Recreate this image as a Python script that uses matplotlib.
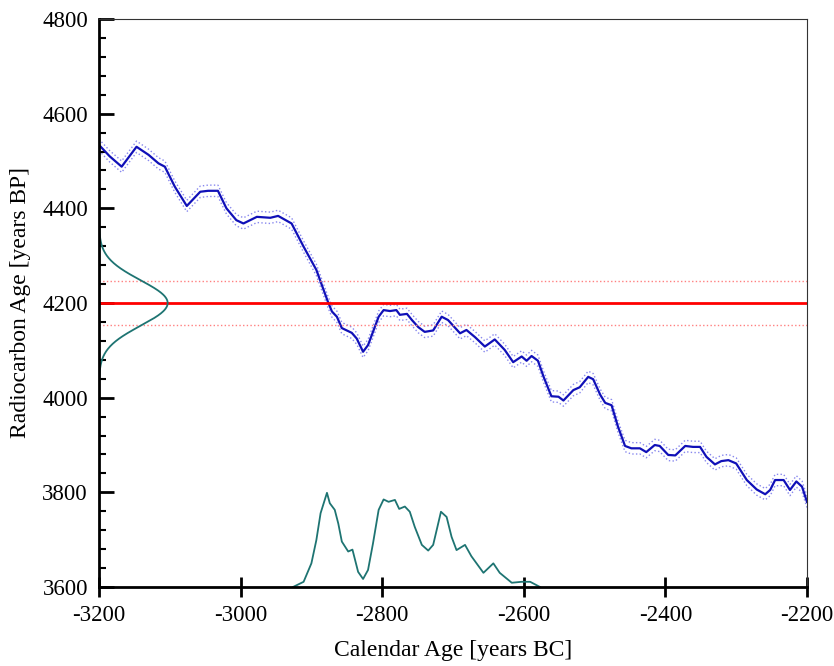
import numpy as np
import matplotlib
matplotlib.use("Agg")
from matplotlib import pyplot as plt
from matplotlib.ticker import MultipleLocator

# calibration curve
cal_x = [-3200, -3185, -3168, -3147, -3130, -3116, -3107, -3093, -3076, -3057, -3046, -3032,
         -3020, -3006, -2996, -2977, -2958, -2947, -2928, -2911, -2893, -2877, -2871,
         -2864, -2857, -2843, -2836, -2827, -2820, -2805, -2798, -2789, -2780, -2775,
         -2765, -2758, -2749, -2740, -2728, -2716, -2707, -2690, -2681, -2669, -2655,
         -2641, -2627, -2615, -2603, -2596, -2589, -2580, -2572, -2561, -2551, -2544,
         -2530, -2521, -2509, -2502, -2492, -2485, -2476, -2467, -2457, -2448, -2436,
         -2427, -2415, -2408, -2396, -2386, -2372, -2361, -2351, -2342, -2330, -2321,
         -2311, -2300, -2285, -2271, -2259, -2252, -2245, -2233, -2224, -2215, -2207, -2200]
cal_y = [4534, 4510, 4488, 4530, 4513, 4495, 4488, 4446, 4405, 4435, 4437, 4437,
         4400, 4375, 4368, 4382, 4380, 4384, 4368, 4319, 4270, 4204, 4182,
         4171, 4147, 4137, 4125, 4097, 4111, 4171, 4185, 4183, 4185, 4175,
         4177, 4164, 4149, 4139, 4142, 4171, 4164, 4136, 4143, 4128, 4108,
         4123, 4101, 4075, 4087, 4078, 4088, 4078, 4044, 4003, 4002, 3994,
         4016, 4022, 4044, 4039, 4006, 3989, 3984, 3939, 3898, 3893, 3893,
         3885, 3900, 3898, 3879, 3878, 3898, 3896, 3896, 3875, 3859, 3866,
         3868, 3861, 3826, 3806, 3796, 3805, 3826, 3826, 3805, 3823, 3812, 3780]
cal_err = 12

# measured date
c14_age = 4200
c14_err = 46

# calibrated probability distribution (in radiocarbon years above 3600)
prob_x = [-2926, -2911, -2900, -2893, -2887, -2878, -2874, -2867, -2862, -2857, -2848,
          -2842, -2834, -2827, -2820, -2813, -2805, -2798, -2791, -2782, -2776, -2768,
          -2761, -2754, -2744, -2735, -2728, -2722, -2717, -2709, -2702, -2695, -2683,
          -2674, -2657, -2643, -2634, -2617, -2603, -2591, -2577]
prob_y = [3600, 3611, 3650, 3699, 3756, 3799, 3777, 3763, 3734, 3696, 3675,
          3679, 3632, 3617, 3636, 3692, 3763, 3785, 3780, 3784, 3765, 3770,
          3759, 3727, 3689, 3677, 3689, 3727, 3759, 3748, 3706, 3678, 3689,
          3665, 3630, 3650, 3630, 3609, 3611, 3611, 3600]

plt.rcParams['font.family'] = ['Liberation Serif', 'DejaVu Serif']
plt.rcParams['axes.unicode_minus'] = False

fig = plt.figure(figsize=(8.34, 6.66), dpi=100)
ax = fig.add_axes([0.1187, 0.1186, 0.8489, 0.8529])

blue = '#1010b8'
teal = '#1e7472'

cx = np.array(cal_x)
cy = np.array(cal_y)
ax.plot(cx, cy + cal_err, ls=':', color='#8888ee', lw=1.0)
ax.plot(cx, cy - cal_err, ls=':', color='#8888ee', lw=1.0)
ax.plot(cx, cy, color=blue, lw=1.6)

ax.axhline(c14_age, color='#ff0000', lw=2)
ax.axhline(c14_age + c14_err, color='#ff8080', lw=1, ls=':')
ax.axhline(c14_age - c14_err, color='#ff8080', lw=1, ls=':')

# gaussian of the measurement along the y axis
gy = np.linspace(c14_age - 160, c14_age + 160, 300)
gx = -3200 + 97 * np.exp(-(gy - c14_age) ** 2 / (2 * 48 ** 2))
ax.plot(gx, gy, color=teal, lw=1.3)

ax.plot(prob_x, prob_y, color=teal, lw=1.3)

ax.set_xlim(-3200, -2200)
ax.set_ylim(3600, 4800)
ax.xaxis.set_major_locator(MultipleLocator(200))
ax.yaxis.set_major_locator(MultipleLocator(200))
ax.yaxis.set_minor_locator(MultipleLocator(40))

ax.tick_params(axis='y', which='major', direction='in', length=11, width=2, labelsize=16.5, pad=8)
ax.tick_params(axis='y', which='minor', direction='in', length=5, width=1.5)
ax.tick_params(axis='x', which='major', direction='inout', length=14, width=2, labelsize=16.5, pad=6)

for s in ['left', 'bottom']:
    ax.spines[s].set_linewidth(2)
for s in ['top', 'right']:
    ax.spines[s].set_linewidth(0.8)
    ax.spines[s].set_color('#333333')

ax.set_xlabel('Calendar Age [years BC]', fontsize=17, labelpad=10)
ax.set_ylabel('Radiocarbon Age [years BP]', fontsize=17, labelpad=8)

fig.savefig('out.png', dpi=100)
